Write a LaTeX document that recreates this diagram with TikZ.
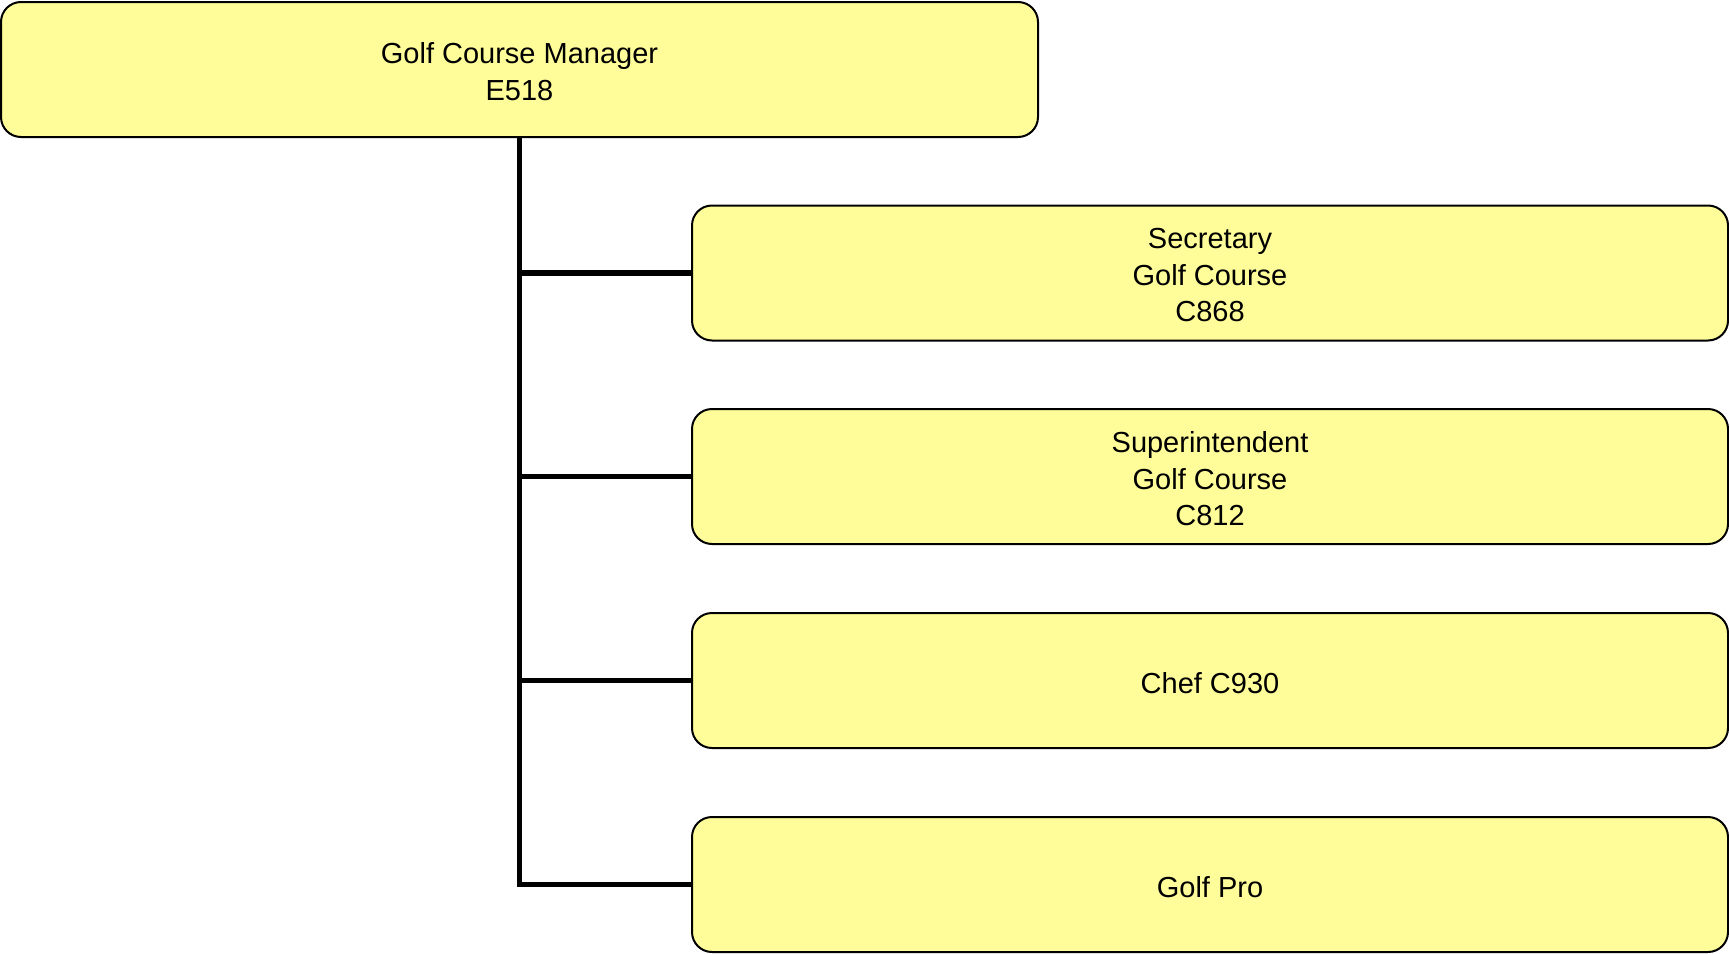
\documentclass[tikz,border=0pt]{standalone}
\usepackage{fontspec}
\setmainfont{Liberation Sans}
\definecolor{boxfill}{RGB}{255,253,153}
\begin{document}
\begin{tikzpicture}[x=0.5pt,y=-0.5pt,
  orgbox/.style={draw=black, line width=1pt, fill=boxfill, rounded corners=10pt,
    minimum width=518pt, minimum height=67.5pt, align=center, inner sep=0pt,
    font=\fontsize{14.5pt}{18.3pt}\selectfont},
  boxtext/.style={yshift=-1.2pt},
  link/.style={draw=black, line width=2.8pt}]
\useasboundingbox (0,0) rectangle (1729,953);
\node[orgbox, minimum width=518.5pt] (top) at (519.5,69.5) {};
\node[orgbox] (c1) at (1210,273) {};
\node[orgbox] (c2) at (1210,476.5) {};
\node[orgbox] (c3) at (1210,680.5) {};
\node[orgbox] (c4) at (1210,884.5) {};
\node[orgbox, draw=none, fill=none, boxtext] (t0) at (top.center) {Golf Course Manager\\E518};
\node[orgbox, draw=none, fill=none, boxtext] (t1) at (c1.center) {Secretary\\Golf Course\\C868};
\node[orgbox, draw=none, fill=none, boxtext] (t2) at (c2.center) {Superintendent\\Golf Course\\C812};
\node[orgbox, draw=none, fill=none, boxtext] (t3) at (c3.center) {Chef C930};
\node[orgbox, draw=none, fill=none, boxtext] (t4) at (c4.center) {Golf Pro};
\draw[link, line join=miter] (top.south) -- (top.south |- c4.west) -- (c4.west);
\draw[link] (top.south |- c1.west) -- (c1.west);
\draw[link] (top.south |- c2.west) -- (c2.west);
\draw[link] (top.south |- c3.west) -- (c3.west);
\end{tikzpicture}
\end{document}
